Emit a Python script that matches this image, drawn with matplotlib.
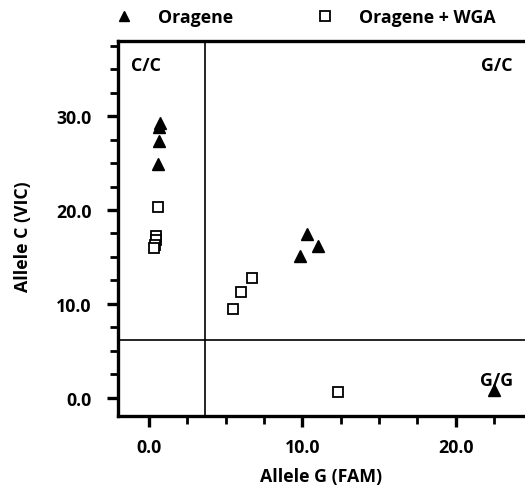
import matplotlib.pyplot as plt
from matplotlib.lines import Line2D

plt.rcParams['font.family'] = ['Open Sans', 'DejaVu Sans']
plt.rcParams['font.weight'] = 'bold'

# Oragene samples (filled triangles)
orag_x = [0.75, 0.7, 0.7, 0.6, 10.3, 11.0, 9.85, 22.5]
orag_y = [29.3, 28.8, 27.4, 24.9, 17.4, 16.2, 15.1, 0.85]

# Oragene + WGA samples (open squares)
wga_x = [0.6, 0.5, 0.45, 0.4, 0.35, 6.7, 6.0, 5.5, 12.3]
wga_y = [20.3, 17.2, 16.8, 16.3, 16.0, 12.8, 11.3, 9.4, 0.65]

# cluster cut-offs
x_cut = 3.65
y_cut = 6.2

fs = 12.8

fig = plt.figure(figsize=(5.25, 4.89), dpi=100)
ax = fig.add_axes([0.2248, 0.1472, 0.7752, 0.7668])

ax.plot(orag_x, orag_y, linestyle='none', marker='^', color='black', markersize=8.5)
ax.plot(wga_x, wga_y, linestyle='none', marker='s', markerfacecolor='white',
        markeredgecolor='black', markeredgewidth=1.3, markersize=7.5)

ax.axvline(x_cut, color='black', linewidth=1.2)
ax.axhline(y_cut, color='black', linewidth=1.2)

ax.set_xlim(-2.0, 24.5)
ax.set_ylim(-1.95, 38.0)

ax.set_xticks([0, 10, 20])
ax.set_xticklabels(['0.0', '10.0', '20.0'])
ax.set_xticks([2.5, 5, 7.5, 12.5, 15, 17.5, 22.5], minor=True)
ax.set_yticks([0, 10, 20, 30])
ax.set_yticklabels(['0.0', '10.0', '20.0', '30.0'])
ax.set_yticks([2.5, 5, 7.5, 12.5, 15, 17.5, 22.5, 25, 27.5, 32.5, 35, 37.5], minor=True)

for s in ['left', 'bottom', 'top']:
    ax.spines[s].set_linewidth(2.4)
ax.spines['right'].set_visible(False)

ax.tick_params(which='major', length=8, width=2.4, labelsize=fs)
ax.tick_params(which='minor', length=5.8, width=2.0)
ax.tick_params(axis='x', which='major', pad=8)
ax.tick_params(axis='y', which='major', pad=11)
ax.tick_params(top=False, which='both')

ax.set_xlabel('Allele G (FAM)', fontsize=fs, fontweight='bold')
ax.set_ylabel('Allele C (VIC)', fontsize=fs, fontweight='bold')
ax.xaxis.set_label_coords(0.5, -0.135)
ax.yaxis.set_label_coords(-0.212, 0.48)

ax.text(-1.15, 35.5, 'C/C', fontsize=fs, fontweight='bold', va='center')
ax.text(23.7, 35.5, 'G/C', fontsize=fs, fontweight='bold', va='center', ha='right')
ax.text(23.7, 1.9, 'G/G', fontsize=fs, fontweight='bold', va='center', ha='right')

handles = [
    Line2D([], [], linestyle='none', marker='^', color='black', markersize=7),
    Line2D([], [], linestyle='none', marker='s', markerfacecolor='white',
           markeredgecolor='black', markeredgewidth=1.3, markersize=6.5),
]
fig.legend(handles, ['Oragene', 'Oragene + WGA'], loc='upper left',
           bbox_to_anchor=(0.219, 0.982), ncol=2, frameon=False, fontsize=fs,
           borderpad=0, borderaxespad=0,
           handlelength=1.0, handletextpad=1.4, columnspacing=4.7)

fig.savefig('out.png', dpi=100)
